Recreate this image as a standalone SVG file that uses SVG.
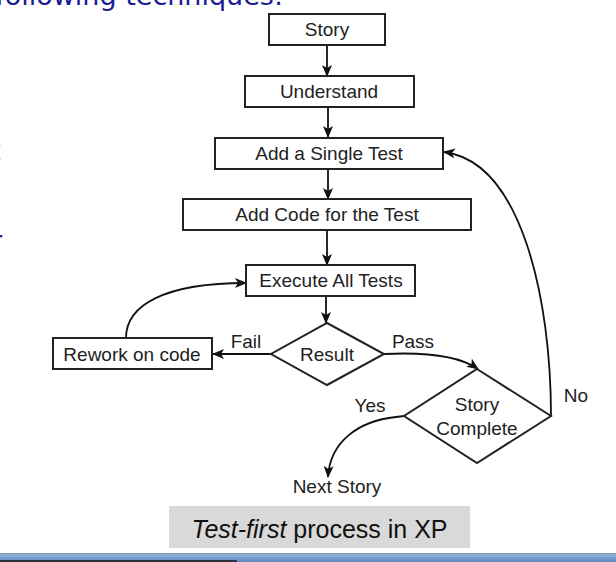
<svg xmlns="http://www.w3.org/2000/svg" width="616" height="562" viewBox="0 0 616 562">
<style>
.box{fill:#fff;stroke:#222;stroke-width:2}
.lbl{font-family:"Liberation Sans",Arial,sans-serif;font-size:19px;fill:#222;text-anchor:middle}
.edge{fill:none;stroke:#111;stroke-width:1.8}
.slide{font-family:"DejaVu Sans",Verdana,sans-serif;font-size:27px;fill:#1c1c96}
</style>
<defs>
<marker id="arr" markerUnits="userSpaceOnUse" markerWidth="12" markerHeight="10" refX="11" refY="5" orient="auto">
<path d="M0,0 L12,5 L0,10 L3,5 z" fill="#111"/>
</marker>
<linearGradient id="bar" x1="0" y1="0" x2="0" y2="1">
<stop offset="0" stop-color="#9cb9dc"/>
<stop offset="1" stop-color="#5a86bd"/>
</linearGradient>
</defs>
<rect width="616" height="562" fill="#fff"/>
<g id="slide-text">
<text class="slide" x="283" y="5" text-anchor="end">following techniques:</text>
<text class="slide" x="-10" y="160">t</text>
<text class="slide" x="-9" y="250">r</text>
</g>
<g id="connectors">
<line class="edge" x1="327" y1="45" x2="327" y2="76" marker-end="url(#arr)"/>
<line class="edge" x1="328" y1="107" x2="328" y2="137" marker-end="url(#arr)"/>
<line class="edge" x1="328" y1="169" x2="328" y2="199" marker-end="url(#arr)"/>
<line class="edge" x1="327" y1="230" x2="327" y2="265" marker-end="url(#arr)"/>
<line class="edge" x1="326" y1="296" x2="326" y2="323" marker-end="url(#arr)"/>
<line class="edge" x1="271" y1="354" x2="213" y2="354" marker-end="url(#arr)"/>
<path class="edge" d="M126,338 C126,305 165,283 246,283" marker-end="url(#arr)"/>
<path class="edge" d="M384,354 C425,352 458,355 478,369" marker-end="url(#arr)"/>
<path class="edge" d="M551,416 C551,300 522,162 444,152" marker-end="url(#arr)"/>
<path class="edge" d="M404,416 L396,417 C358,421 330,442 328,477" marker-end="url(#arr)"/>
<text class="lbl" x="246" y="348">Fail</text>
<text class="lbl" x="413" y="348">Pass</text>
<text class="lbl" x="576" y="402">No</text>
<text class="lbl" x="370" y="412">Yes</text>
</g>
<g id="story"><rect class="box" x="269" y="14" width="116" height="31"/><text class="lbl" x="327" y="36">Story</text></g>
<g id="understand"><rect class="box" x="245" y="76" width="169" height="31"/><text class="lbl" x="329" y="98">Understand</text></g>
<g id="add-single-test"><rect class="box" x="215" y="138" width="228" height="31"/><text class="lbl" x="329" y="160">Add a Single Test</text></g>
<g id="add-code"><rect class="box" x="183" y="199" width="288" height="31"/><text class="lbl" x="327" y="221">Add Code for the Test</text></g>
<g id="execute"><rect class="box" x="246" y="265" width="169" height="31"/><text class="lbl" x="331" y="287">Execute All Tests</text></g>
<g id="result"><polygon class="box" points="327,323 384,354 327,385 271,354"/><text class="lbl" x="327" y="361">Result</text></g>
<g id="rework"><rect class="box" x="53" y="338" width="159" height="31"/><text class="lbl" x="132" y="361">Rework on code</text></g>
<g id="story-complete"><polygon class="box" points="477,369 551,416 477,463 404,416"/><text class="lbl" x="477" y="411">Story</text><text class="lbl" x="477" y="435">Complete</text></g>
<g id="next-story"><text class="lbl" x="337" y="493">Next Story</text></g>
<g id="caption">
<rect x="169" y="506" width="301" height="42" fill="#d9d9d9"/>
<text x="319.5" y="538" text-anchor="middle" style="font-family:'Liberation Sans',Arial,sans-serif;font-size:25px;fill:#111"><tspan font-style="italic">Test-first</tspan> process in XP</text>
</g>
<g id="bottom-bar">
<rect x="0" y="553" width="616" height="9" fill="url(#bar)"/>
<rect x="0" y="553" width="616" height="1" fill="#8794a6"/>
<rect x="0" y="560" width="237" height="2" fill="#2c3340"/>
</g>
</svg>
